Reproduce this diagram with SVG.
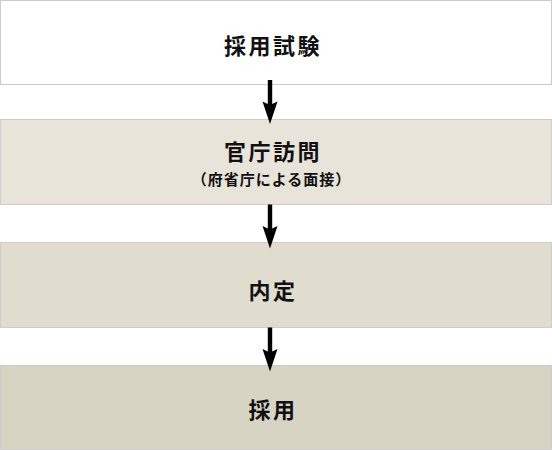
<svg xmlns="http://www.w3.org/2000/svg" width="552" height="450" viewBox="0 0 552 450">
  <style>
    .box { stroke: #cccccc; stroke-width: 1; }
    .t { font-family: "Noto Sans CJK JP", "Noto Sans", sans-serif; font-weight: bold; fill: #111111; text-anchor: middle; dominant-baseline: central; }
    .main { font-size: 22px; letter-spacing: 2.5px; }
    .sub { font-size: 15px; letter-spacing: 1px; }
    .arrow { fill: #000000; }
  </style>
  <defs>
    <path id="arr" d="M-2.2,0 H2.2 V24 L7.5,21.5 L0,44 L-7.5,21.5 L-2.2,24 Z"/>
  </defs>
  <rect width="552" height="450" fill="#ffffff"/>
  <g id="node1">
    <rect class="box" x="0.5" y="0.5" width="551" height="84" fill="#ffffff"/>
    <text class="t main" x="273" y="44">採用試験</text>
  </g>
  <g id="node2">
    <rect class="box" x="0.5" y="119.5" width="551" height="85" fill="#e8e4da"/>
    <text class="t main" x="273" y="150">官庁訪問</text>
    <text class="t sub" x="271.5" y="178.5">（府省庁による面接）</text>
  </g>
  <g id="node3">
    <rect class="box" x="0.5" y="242.5" width="551" height="85" fill="#e0ddcf"/>
    <text class="t main" x="273" y="289">内定</text>
  </g>
  <g id="node4">
    <rect class="box" x="0.5" y="365.5" width="551" height="84" fill="#d8d4c4"/>
    <text class="t main" x="273" y="407.5">採用</text>
  </g>
  <g id="connectors" class="arrow">
    <use href="#arr" x="270" y="80"/>
    <use href="#arr" x="270" y="204.5"/>
    <use href="#arr" x="270" y="327.5"/>
  </g>
</svg>
